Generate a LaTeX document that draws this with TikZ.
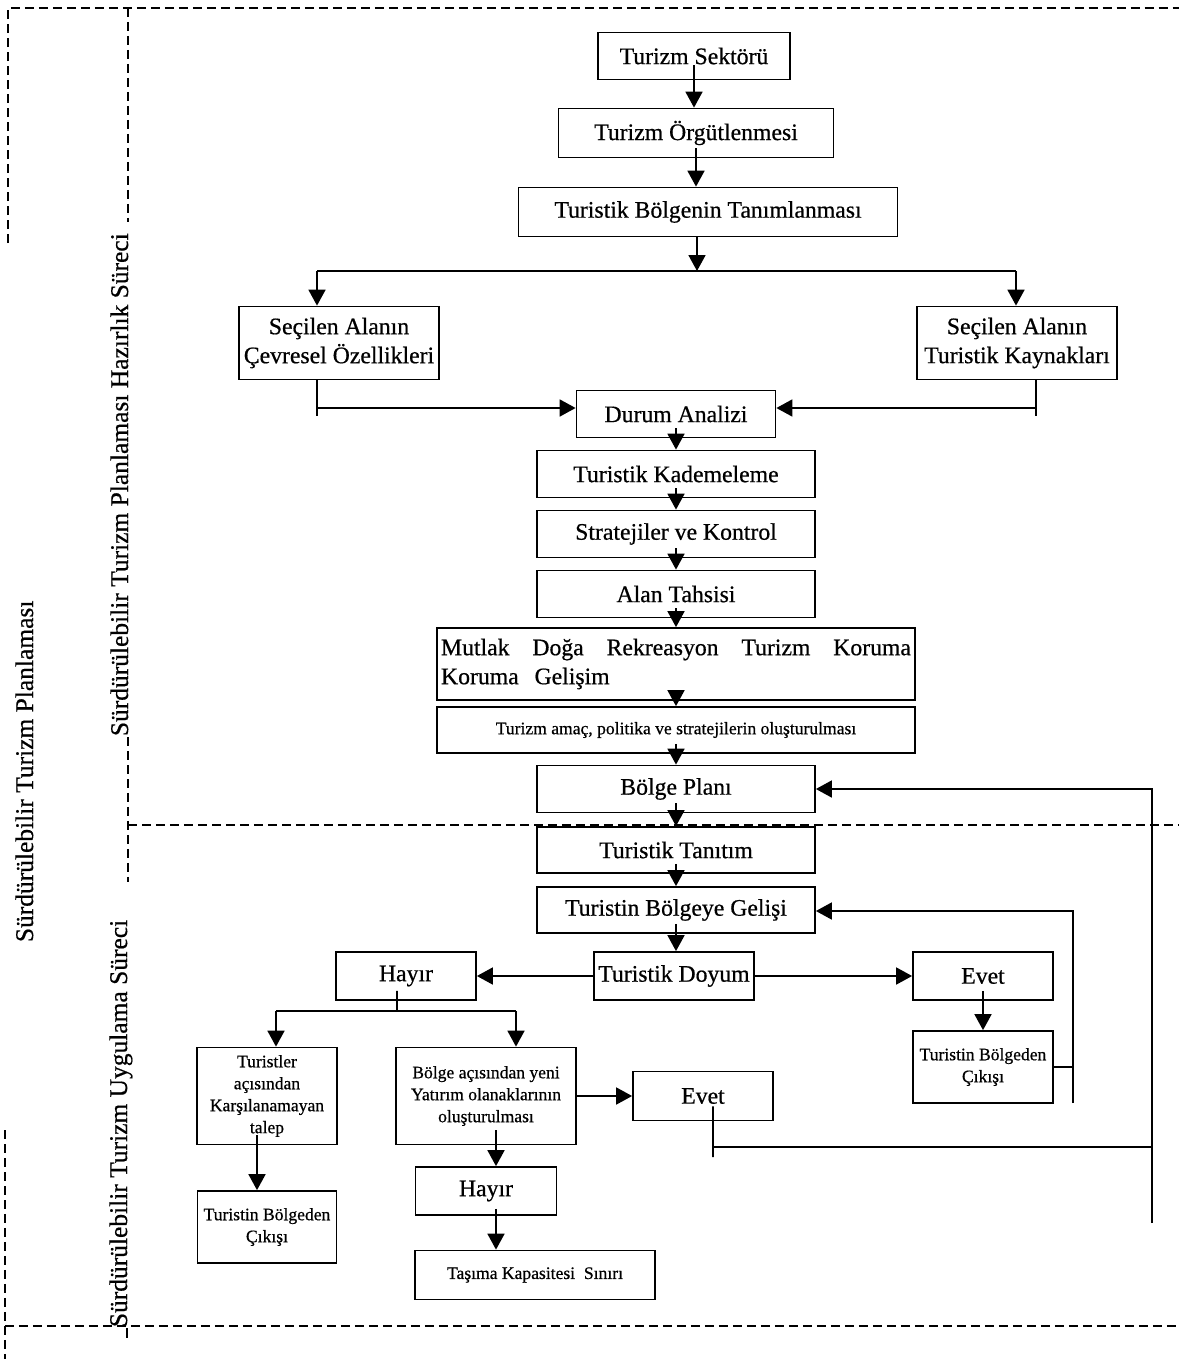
\documentclass[tikz,border=0pt]{standalone}
\usepackage{fontspec}
\setmainfont{Liberation Serif}[FakeBold=0.6]
\usetikzlibrary{arrows.meta}

\begin{document}
\begin{tikzpicture}[
        x=0.02cm, y=-0.02cm, % piksel ölçeği
        line width=1pt,
        kutu/.style={draw, inner sep=1pt, align=center, font=\fontsize{13.5}{16.5}\selectfont}, % kutular
        kucuk/.style={kutu, font=\fontsize{10}{12.5}\selectfont},
        gen/.style={minimum width=#1*0.02cm},
        yuk/.style={minimum height=#1*0.02cm},
        ok/.style={-{Triangle[length=3.2mm,width=3.4mm]}},
        kesik/.style={dash pattern=on 0.18cm off 0.1cm},
        etiket/.style={rotate=90, anchor=base west, inner sep=0pt, font=\fontsize{14.5}{17}\selectfont},
    ]
    \useasboundingbox (0,0) rectangle (1179,1359);

    % hazırlık süreci
    \node[kutu, gen=192, yuk=47] (sektor) at (694,56) {Turizm Sektörü};
    \node[kutu, gen=275, yuk=49] (orgut) at (696,133) {Turizm Örgütlenmesi};
    \node[kutu, gen=379, yuk=49] (tanim) at (708,212) {Turistik Bölgenin Tanımlanması};
    \node[kutu, gen=200, yuk=73] (cevre) at (339,343) {Seçilen Alanın\\Çevresel Özellikleri};
    \node[kutu, gen=200, yuk=73] (kaynak) at (1017,343) {Seçilen Alanın\\Turistik Kaynakları};
    \node[kutu, gen=199, yuk=47] (durum) at (676,414) {Durum Analizi};
    \node[kutu, gen=278, yuk=47] (kademe) at (676,474) {Turistik Kademeleme};
    \node[kutu, gen=278, yuk=47] (strateji) at (676,534) {Stratejiler ve Kontrol};
    \node[kutu, gen=278, yuk=47] (tahsis) at (676,594) {Alan Tahsisi};
    \node[kutu, gen=478, yuk=72, text width=9.4cm, align=left] (mutlak) at (676,664)
        {\hbox to 9.4cm{Mutlak\hfill Doğa\hfill Rekreasyon\hfill Turizm\hfill Koruma}\\Koruma\ \ Gelişim};
    \node[kucuk, gen=478, yuk=46] (amac) at (676,730) {Turizm amaç, politika ve stratejilerin oluşturulması};
    \node[kutu, gen=278, yuk=47] (plan) at (676,789) {Bölge Planı};

    % uygulama süreci
    \node[kutu, gen=278, yuk=46] (tanitim) at (676,850) {Turistik Tanıtım};
    \node[kutu, gen=278, yuk=46] (gelis) at (676,910) {Turistin Bölgeye Gelişi};
    \node[kutu, gen=160, yuk=48] (doyum) at (674,976) {Turistik Doyum};
    \node[kutu, gen=140, yuk=48] (hayir1) at (406,976) {Hayır};
    \node[kutu, gen=140, yuk=48] (evet1) at (983,976) {Evet};
    \node[kucuk, gen=140, yuk=72] (cikis1) at (983,1067) {Turistin Bölgeden\\Çıkışı};
    \node[kucuk, gen=140, yuk=97] (talep) at (267,1096) {Turistler\\açısından\\Karşılanamayan\\talep};
    \node[kucuk, gen=180, yuk=97] (yatirim) at (486,1096) {Bölge açısından yeni\\Yatırım olanaklarının\\oluşturulması};
    \node[kutu, gen=140, yuk=49] (evet2) at (703,1096) {Evet};
    \node[kucuk, gen=139, yuk=72] (cikis2) at (267,1227) {Turistin Bölgeden\\Çıkışı};
    \node[kutu, gen=141, yuk=48] (hayir2) at (486,1191) {Hayır};
    \node[kucuk, gen=240, yuk=49] (tasima) at (535,1275) {Taşıma Kapasitesi\ \ Sınırı};

    % yan etiketler
    \node[etiket] (planlama) at (33,943) {Sürdürülebilir Turizm Planlaması};
    \node[etiket] (hazirlik) at (128,737) {Sürdürülebilir Turizm Planlaması Hazırlık Süreci};
    \node[etiket] (uygulama) at (127,1328) {Sürdürülebilir Turizm Uygulama Süreci};

    % kesikli çerçeve
    \draw[kesik] (8,243) -- (8,8) -- (1179,8);
    \draw[kesik] (128,8) -- (128,222);
    \draw[kesik] (hazirlik.base west) -- (128,882);
    \draw[kesik] (128,825) -- (1179,825);
    \draw[kesik] (5,1130) -- (5,1359);
    \draw[kesik] (5,1326) -- (1179,1326);
    \draw (uygulama.base west) -- (127,1338);

    % oklar
    \draw[ok] ([yshift=3mm]sektor.south) -- (sektor.south |- orgut.north);
    \draw[ok] ([yshift=2mm]orgut.south) -- (orgut.south |- tanim.north);
    \coordinate (ayrim) at (697,271);
    \coordinate (sol) at (317,271);
    \coordinate (sag) at (1016,271);
    \draw[ok] (tanim.south -| ayrim) -- (ayrim);
    \draw (sol) -- (sag);
    \draw[ok] (sol) -- (sol |- cevre.north);
    \draw[ok] (sag) -- (sag |- kaynak.north);

    \coordinate (c1) at (317,408);
    \coordinate (c1alt) at (317,416);
    \coordinate (c2) at (1036,408);
    \coordinate (c2alt) at (1036,416);
    \draw (cevre.south -| c1) -- (c1alt);
    \draw[ok] (c1) -- (c1 -| durum.west);
    \draw (kaynak.south -| c2) -- (c2alt);
    \draw[ok] (c2) -- (c2 -| durum.east);

    \foreach \a/\b in {durum/kademe, kademe/strateji, strateji/tahsis, tahsis/mutlak, mutlak/amac,
                       amac/plan, plan/tanitim, tanitim/gelis, gelis/doyum}
        \draw[ok] ([yshift=2mm]\a.south) -- (\a.south |- \b.north);

    \draw[ok] (doyum.west) -- (hayir1.east);
    \draw[ok] (doyum.east) -- (evet1.west);
    \draw[ok] ([yshift=2mm]evet1.south) -- (cikis1.north);

    % geri dönüş 1
    \coordinate (d1) at (1073,911);
    \coordinate (d1alt) at (1073,1103);
    \draw (cikis1.east) -- (cikis1.east -| d1);
    \draw[ok] (d1alt) -- (d1) -- (d1 -| gelis.east);

    \coordinate (h1) at (397,1011);
    \coordinate (hsol) at (276,1011);
    \coordinate (hsag) at (516,1011);
    \draw ([xshift=-1.8mm,yshift=2mm]hayir1.south) -- (h1);
    \draw (hsol) -- (hsag);
    \draw[ok] (hsol) -- (hsol |- talep.north);
    \draw[ok] (hsag) -- (hsag |- yatirim.north);
    \draw[ok] (yatirim.east) -- (evet2.west);

    % geri dönüş 2
    \coordinate (e2) at (713,1147);
    \coordinate (e2alt) at (713,1157);
    \coordinate (kose) at (1152,789);
    \coordinate (kosealt) at (1152,1223);
    \draw ([xshift=2mm,yshift=3mm]evet2.south) -- (e2alt);
    \draw (e2) -- (e2 -| kose);
    \draw[ok] (kosealt) -- (kose) -- (kose -| plan.east);

    \draw[ok] ([xshift=-2mm,yshift=2mm]talep.south) -- ([xshift=-2mm]cikis2.north);
    \draw[ok] ([xshift=2mm,yshift=3mm]yatirim.south) -- ([xshift=2mm]hayir2.north);
    \coordinate (h2) at ([xshift=2mm]hayir2.south);
    \draw[ok] ([yshift=1.4mm]h2) -- (h2 |- tasima.north);

\end{tikzpicture}
\end{document}
